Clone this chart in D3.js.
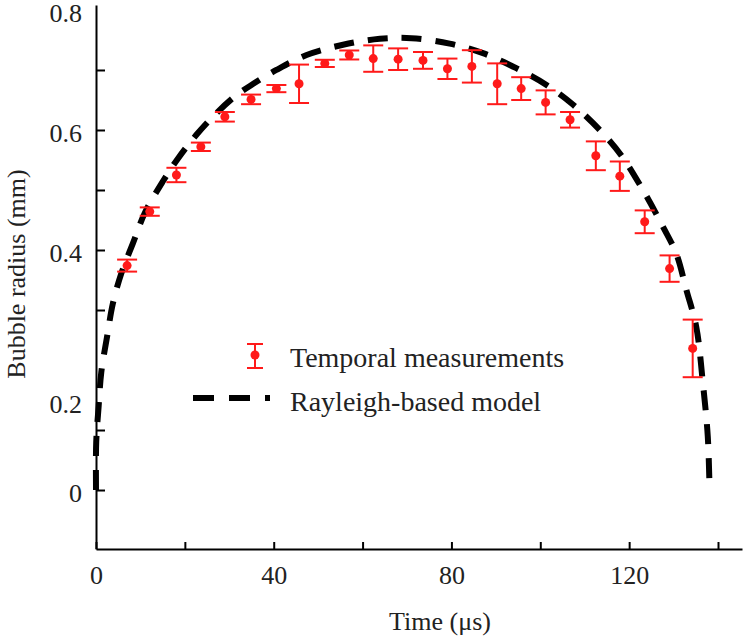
<!DOCTYPE html>
<html>
<head>
<meta charset="utf-8">
<script src="https://cdn.jsdelivr.net/npm/d3@7"></script>
<style>
  html, body { margin: 0; padding: 0; background: #fff; }
  svg { display: block; }
  text { font-family: "Liberation Serif", "Times New Roman", serif; fill: #222; }
</style>
</head>
<body>
<svg id="chart" width="750" height="639"></svg>
<script>
// ---- data ----
const measTime   = [7.0, 12.1, 18.1, 23.6, 29.0, 34.9, 40.6, 45.7, 51.5, 57.0, 62.4, 68.0,
                    73.6, 79.1, 84.6, 90.3, 95.7, 101.2, 106.7, 112.5, 117.9, 123.5, 129.1, 134.3];
const measRadius = [0.374, 0.464, 0.525, 0.572, 0.622, 0.651, 0.669, 0.677, 0.711, 0.725, 0.719, 0.718,
                    0.716, 0.702, 0.706, 0.677, 0.669, 0.646, 0.617, 0.557, 0.523, 0.447, 0.369, 0.236];
const measError  = [0.010, 0.007, 0.012, 0.007, 0.008, 0.008, 0.006, 0.032, 0.006, 0.0075, 0.022, 0.018,
                    0.014, 0.017, 0.027, 0.034, 0.019, 0.020, 0.013, 0.024, 0.0245, 0.019, 0.022, 0.048];

const modelTime   = [0, 0.05, 0.6, 1.2, 2.5, 3.8, 5.7, 8.3, 11.0, 15.1, 18.5, 22.6, 27.1, 31.6, 35.4, 40.6,
                     47.4, 55.6, 63.9, 71.0, 79.6, 87.1, 94.6, 101.4, 107.4, 113.4, 118.2, 123.1, 127.6,
                     130.6, 132.9, 135.1, 136.6, 137.7, 138.1];
const modelRadius = [0, 0.08, 0.14, 0.197, 0.256, 0.311, 0.361, 0.411, 0.462, 0.515, 0.553, 0.592, 0.628, 0.658, 0.677, 0.700,
                     0.725, 0.742, 0.752, 0.753, 0.744, 0.728, 0.703, 0.675, 0.642, 0.600, 0.558, 0.500, 0.439,
                     0.394, 0.333, 0.272, 0.178, 0.089, 0];

const xTickValues  = [0, 20, 40, 60, 80, 100, 120, 140];
const xLabelValues = [0, 40, 80, 120];
const yTickValues  = [0, 0.1, 0.3, 0.4, 0.5, 0.6, 0.7];
const yLabelValues = [0, 0.2, 0.4, 0.6, 0.8];
const legendLabels = ["Temporal measurements", "Rayleigh-based model"];
const xTitle = "Time (\u03bcs)";
const yTitle = "Bubble radius (mm)";

// ---- layout ----
const svg = d3.select("#chart");
const x = d3.scaleLinear().domain([0, 145.4]).range([96, 742]);
const y = d3.scaleLinear().domain([-0.0983, 0.8083]).range([549, 5]);
const RED = "#ff1a1a";

// model dashed curve
svg.append("path")
  .datum(modelTime)
  .attr("d", d3.line().x((d, i) => x(modelTime[i])).y((d, i) => y(modelRadius[i])).curve(d3.curveCatmullRom.alpha(0.5)))
  .attr("fill", "none")
  .attr("stroke", "#000")
  .attr("stroke-width", 6)
  .attr("stroke-dasharray", "20,14");

// error bars
const meas = measTime.map((t, i) => ({ t, r: measRadius[i], e: measError[i] }));
const g = svg.append("g");
const eb = g.selectAll("g.eb").data(meas).enter().append("g");
eb.append("line")
  .attr("x1", d => x(d.t)).attr("x2", d => x(d.t))
  .attr("y1", d => y(d.r + d.e)).attr("y2", d => y(d.r - d.e))
  .attr("stroke", RED).attr("stroke-width", 2);
eb.append("line")
  .attr("x1", d => x(d.t) - 10).attr("x2", d => x(d.t) + 10)
  .attr("y1", d => y(d.r + d.e)).attr("y2", d => y(d.r + d.e))
  .attr("stroke", RED).attr("stroke-width", 2);
eb.append("line")
  .attr("x1", d => x(d.t) - 10).attr("x2", d => x(d.t) + 10)
  .attr("y1", d => y(d.r - d.e)).attr("y2", d => y(d.r - d.e))
  .attr("stroke", RED).attr("stroke-width", 2);
eb.append("circle")
  .attr("cx", d => x(d.t)).attr("cy", d => y(d.r)).attr("r", 4.5)
  .attr("fill", RED);

// x axis
const xAxisG = svg.append("g").attr("transform", `translate(0,${y.range()[0]})`);
xAxisG.call(d3.axisBottom(x).tickValues(xTickValues).tickSize(-7).tickSizeOuter(0).tickFormat(""));
const xLab = svg.append("g").attr("transform", `translate(0,${y.range()[0]})`);
xLab.call(d3.axisBottom(x).tickValues(xLabelValues).tickSize(0).tickPadding(17).tickFormat(d3.format("d")));
xLab.select(".domain").remove();
[xAxisG, xLab].forEach(a => {
  a.selectAll("path, line").attr("stroke", "#000").attr("stroke-width", 2);
  a.selectAll("text").style("font-family", '"Liberation Serif", serif').style("font-size", "26px").attr("fill", "#222");
});

// y axis
const yAxisG = svg.append("g").attr("transform", `translate(${x.range()[0]},0)`);
yAxisG.call(d3.axisLeft(y).tickValues(yTickValues).tickSize(-9).tickSizeOuter(0).tickFormat(""));
const yLab = svg.append("g").attr("transform", `translate(${x.range()[0]},0)`);
yLab.call(d3.axisLeft(y).tickValues(yLabelValues).tickSize(0).tickPadding(14).tickFormat(d => d === 0 ? "0" : d3.format(".1f")(d)));
yLab.select(".domain").remove();
[yAxisG, yLab].forEach(a => {
  a.selectAll("path, line").attr("stroke", "#000").attr("stroke-width", 2);
  a.selectAll("text").style("font-family", '"Liberation Serif", serif').style("font-size", "26px").attr("fill", "#222");
});
// the reference prints its "0.2" label lower than its nominal position
yLab.selectAll(".tick").filter(d => d === 0.2).select("text").attr("dy", "1.65em");
yLab.selectAll(".tick").filter(d => d !== 0.2).select("text").attr("dy", "0.46em");

// axis titles
svg.append("text")
  .attr("x", 440).attr("y", 630)
  .attr("text-anchor", "middle")
  .style("font-size", "26px")
  .text(xTitle);
svg.append("text")
  .attr("transform", "translate(25,274) rotate(-90)")
  .attr("text-anchor", "middle")
  .style("font-size", "26px")
  .text(yTitle);

// legend
const lg = svg.append("g");
lg.append("line").attr("x1", 255).attr("x2", 255).attr("y1", 344).attr("y2", 368).attr("stroke", RED).attr("stroke-width", 2);
lg.append("line").attr("x1", 247).attr("x2", 263).attr("y1", 344).attr("y2", 344).attr("stroke", RED).attr("stroke-width", 2);
lg.append("line").attr("x1", 247).attr("x2", 263).attr("y1", 368).attr("y2", 368).attr("stroke", RED).attr("stroke-width", 2);
lg.append("circle").attr("cx", 255).attr("cy", 355).attr("r", 4.5).attr("fill", RED);
lg.append("line").attr("x1", 193).attr("x2", 270).attr("y1", 398).attr("y2", 398)
  .attr("stroke", "#000").attr("stroke-width", 6).attr("stroke-dasharray", "21,15");
lg.append("text").attr("x", 290).attr("y", 367).style("font-size", "28px").text(legendLabels[0]);
lg.append("text").attr("x", 290).attr("y", 411).style("font-size", "28px").text(legendLabels[1]);
</script>
</body>
</html>
